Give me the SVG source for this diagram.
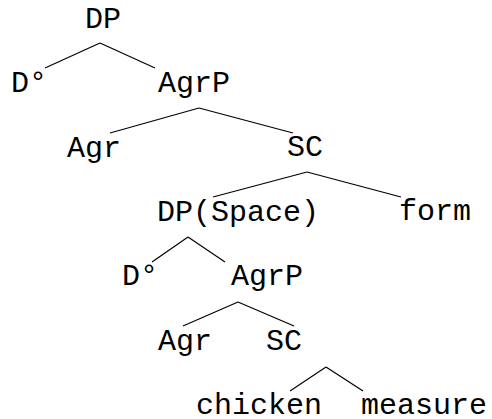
<svg xmlns="http://www.w3.org/2000/svg" width="492" height="419" viewBox="0 0 492 419">
<style>
text{font-family:"Liberation Mono","Courier New",monospace;font-size:30px;fill:#000}
.e line{stroke:#000;stroke-width:1.2}
</style>
<rect width="492" height="419" fill="#fff"/>
<g class="e" id="edges">
<line x1="100" y1="43" x2="45" y2="68"/>
<line x1="100" y1="43" x2="155" y2="68"/>
<line x1="199" y1="108" x2="110" y2="133"/>
<line x1="199" y1="108" x2="293" y2="133"/>
<line x1="307" y1="172" x2="213" y2="197"/>
<line x1="307" y1="172" x2="401" y2="197"/>
<line x1="188" y1="237" x2="152" y2="262"/>
<line x1="188" y1="237" x2="225" y2="262"/>
<line x1="238" y1="302" x2="183" y2="326"/>
<line x1="238" y1="302" x2="294" y2="326"/>
<line x1="326" y1="367" x2="290" y2="391"/>
<line x1="326" y1="367" x2="363" y2="391"/>
</g>
<g id="n1"><text x="85" y="28">DP</text></g>
<g id="n2"><text x="11" y="92">D°</text></g>
<g id="n3"><text x="158" y="92">AgrP</text></g>
<g id="n4"><text x="67" y="157">Agr</text></g>
<g id="n5"><text x="287" y="156">SC</text></g>
<g id="n6"><text x="157" y="221">DP(Space)</text></g>
<g id="n7"><text x="399" y="220">form</text></g>
<g id="n8"><text x="122" y="285">D°</text></g>
<g id="n9"><text x="231" y="285">AgrP</text></g>
<g id="n10"><text x="158" y="350">Agr</text></g>
<g id="n11"><text x="266" y="350">SC</text></g>
<g id="n12"><text x="196" y="414">chicken</text></g>
<g id="n13"><text x="361" y="414">measure</text></g>
</svg>
